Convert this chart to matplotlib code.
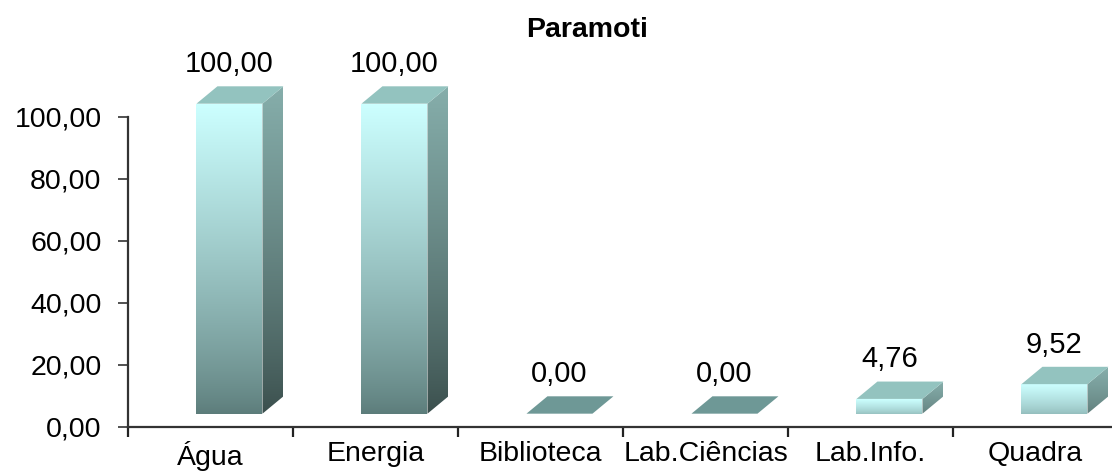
import numpy as np
import matplotlib
matplotlib.use("Agg")
import matplotlib.pyplot as plt
from matplotlib.patches import Polygon
from matplotlib.colors import to_rgb

categories = ["Água", "Energia", "Biblioteca", "Lab.Ciências", "Lab.Info.", "Quadra"]
values = [100.00, 100.00, 0.00, 0.00, 4.76, 9.52]
value_labels = ["100,00", "100,00", "0,00", "0,00", "4,76", "9,52"]
yticks = [0, 20, 40, 60, 80, 100]
ytick_labels = ["0,00", "20,00", "40,00", "60,00", "80,00", "100,00"]
title = "Paramoti"

plt.rcParams['font.family'] = ['Liberation Sans', 'DejaVu Sans']

fig = plt.figure(figsize=(11.12, 4.72), dpi=100)
ax = fig.add_axes([128/1112, 45/472, 990/1112, (427-61.2)/472])

LIGHT = np.array(to_rgb('#ccffff'))
DARK_FRONT = np.array(to_rgb('#5c7c7a'))
SIDE_TOP = np.array(to_rgb('#86aeab'))
SIDE_BOT = np.array(to_rgb('#3a4e4c'))
TOP_C = '#93c3bf'
ZERO_C = '#6e9896'

shift = 4.3
off0, off1 = -0.085, 0.315
dx, dy = 0.127, 5.6


def vgrad(poly, ybot, ytop, c_bot, c_top, z):
    xs = [p[0] for p in poly]
    patch = Polygon(poly, closed=True, facecolor='none', edgecolor='none', zorder=z)
    ax.add_patch(patch)
    t = np.linspace(0, 1, 256)[:, None, None]
    t = t ** 0.8
    arr = c_bot[None, None, :] * (1 - t) + c_top[None, None, :] * t
    im = ax.imshow(arr, extent=[min(xs), max(xs), ybot, ytop], origin='lower',
                   aspect='auto', zorder=z, interpolation='bilinear')
    im.set_clip_path(patch)


for i, v in enumerate(values):
    x0, x1 = i + off0, i + off1
    b, t = shift, shift + v
    if v <= 0:
        poly = [(x0, b), (x1, b), (x1 + dx, b + dy), (x0 + dx, b + dy)]
        ax.add_patch(Polygon(poly, closed=True, facecolor=ZERO_C, edgecolor='none', zorder=3))
    else:
        k = 0.45 + 0.55 * v / 100.0
        fb = LIGHT + (DARK_FRONT - LIGHT) * k
        sb = SIDE_TOP + (SIDE_BOT - SIDE_TOP) * k
        front = [(x0, b), (x1, b), (x1, t), (x0, t)]
        vgrad(front, b, t, fb, LIGHT, 3)
        side = [(x1, b), (x1 + dx, b + dy), (x1 + dx, t + dy), (x1, t)]
        vgrad(side, b, t + dy, sb, SIDE_TOP, 3)
        top = [(x0, t), (x1, t), (x1 + dx, t + dy), (x0 + dx, t + dy)]
        ax.add_patch(Polygon(top, closed=True, facecolor=TOP_C, edgecolor='none', zorder=3))
    ax.annotate(value_labels[i], xy=((x0 + x1) / 2, t + dy), xytext=(0, 16),
                textcoords='offset points', ha='center', va='center', fontsize=21,
                color='black', annotation_clip=False)

ax.set_xlim(-0.5, len(categories) - 0.5)
ax.set_ylim(0, 118)

for s in ['top', 'right']:
    ax.spines[s].set_visible(False)
for s in ['left', 'bottom']:
    ax.spines[s].set_color('#333333')
    ax.spines[s].set_linewidth(1.6)
ax.spines['left'].set_bounds(0, 100)

ax.set_yticks(yticks)
ax.set_yticklabels(ytick_labels)
ax.tick_params(axis='y', direction='out', length=7, width=1.2, color='#333333',
               labelsize=20.5, pad=12)

ax.set_xticks(np.arange(len(categories)))
ax.set_xticklabels(categories)
ax.set_xticks(np.arange(len(categories) + 1) - 0.5, minor=True)
ax.tick_params(axis='x', which='major', length=0, labelsize=20.5, pad=10)
ax.tick_params(axis='x', which='minor', direction='out', length=7, width=1.6, color='#222222')

fig.text(587/1112, 1 - 30/472, title, ha='center', va='center', fontsize=20.5,
         fontweight='bold')

fig.savefig('out.png', dpi=100)
